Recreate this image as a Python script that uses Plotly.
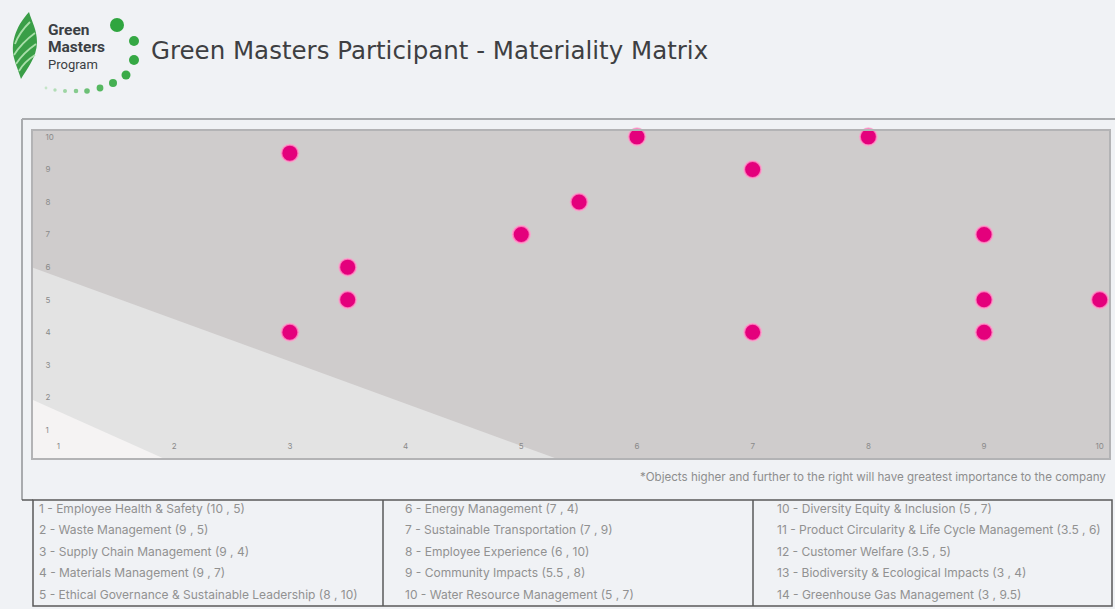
import plotly.graph_objects as go

W, H = 1115, 609

# ---------------- data ----------------
item_numbers = ["1", "2", "3", "4", "5", "6", "7", "8", "9", "10", "10", "11", "12", "13", "14"]
item_names = [
    "Employee Health & Safety",
    "Waste Management",
    "Supply Chain Management",
    "Materials Management",
    "Ethical Governance & Sustainable Leadership",
    "Energy Management",
    "Sustainable Transportation",
    "Employee Experience",
    "Community Impacts",
    "Water Resource Management",
    "Diversity Equity & Inclusion",
    "Product Circularity & Life Cycle Management",
    "Customer Welfare",
    "Biodiversity & Ecological Impacts",
    "Greenhouse Gas Management",
]
x_vals = [10, 9, 9, 9, 8, 7, 7, 6, 5.5, 5, 5, 3.5, 3.5, 3, 3]
y_vals = [5, 5, 4, 7, 10, 4, 9, 10, 8, 7, 7, 6, 5, 4, 9.5]
tick_vals = [1, 2, 3, 4, 5, 6, 7, 8, 9, 10]

title_text = "Green Masters Participant - Materiality Matrix"
note_text = "*Objects higher and further to the right will have greatest importance to the company"

# ---------------- helpers ----------------
def px(x):
    return x / W

def py(y):
    return 1 - y / H

def P(x, y):
    return f"{px(x):.5f},{py(y):.5f}"

# plot area in pixels
PL, PR, PT, PB = 33, 1109, 131, 458
X_RANGE = [0.78, 10.08]
Y_RANGE = [0.14, 10.18]

fig = go.Figure()

fig.add_trace(go.Scatter(
    x=x_vals, y=y_vals, mode="markers",
    marker=dict(size=17, color="#e4007c",
                line=dict(color="rgba(255,160,205,0.75)", width=2)),
    text=[f"{n} - {t}" for n, t in zip(item_numbers, item_names)],
    hoverinfo="text", cliponaxis=False, showlegend=False,
))

shapes = []
# shaded zones inside the matrix (data coords)
x0, x1 = X_RANGE
y0 = Y_RANGE[0]
shapes.append(dict(type="path", xref="x", yref="y", layer="below",
                   path=f"M {x0},5.98 L 5.29,{y0} L {x0},{y0} Z",
                   fillcolor="#e3e3e3", line=dict(width=0)))
shapes.append(dict(type="path", xref="x", yref="y", layer="below",
                   path=f"M {x0},1.92 L 1.9,{y0} L {x0},{y0} Z",
                   fillcolor="#f5f3f3", line=dict(width=0)))

# outer frame
shapes.append(dict(type="line", xref="paper", yref="paper",
                   x0=px(22), x1=px(1115), y0=py(119), y1=py(119),
                   line=dict(color="#a9abae", width=2)))
shapes.append(dict(type="line", xref="paper", yref="paper",
                   x0=px(22), x1=px(22), y0=py(119), y1=py(500),
                   line=dict(color="#a9abae", width=2)))

# table box
shapes.append(dict(type="rect", xref="paper", yref="paper",
                   x0=px(33), x1=px(1112), y0=py(500), y1=py(606),
                   line=dict(color="#5a5a5a", width=1.5)))
shapes.append(dict(type="line", xref="paper", yref="paper",
                   x0=px(22), x1=px(33), y0=py(500), y1=py(500),
                   line=dict(color="#5a5a5a", width=1.5)))
for xd in (383, 753):
    shapes.append(dict(type="line", xref="paper", yref="paper",
                       x0=px(xd), x1=px(xd), y0=py(500), y1=py(606),
                       line=dict(color="#5a5a5a", width=1.5)))

# ---- logo: flame leaf ----
flame = (f"M {P(29,12)} C {P(18,24)} {P(10,40)} {P(14,58)} "
         f"C {P(16,66)} {P(19,72)} {P(21,79)} "
         f"C {P(26,70)} {P(37,58)} {P(37,42)} "
         f"C {P(37,30)} {P(32,22)} {P(29,12)} Z")
shapes.append(dict(type="path", xref="paper", yref="paper", path=flame,
                   fillcolor="#3a9e47", line=dict(width=0)))
for (a, b, c, d) in [(15, 44, 30, 22), (14, 55, 35, 33), (16, 64, 36, 44), (19, 71, 35, 55)]:
    shapes.append(dict(type="path", xref="paper", yref="paper",
                       path=f"M {P(a,b)} Q {P((a+c)/2-3,(b+d)/2-1)} {P(c,d)}",
                       line=dict(color="#a9dfa9", width=1.8)))
# logo dots
dots = [(117, 25, 7, "#2fa53f"), (134, 41, 5, "#35a844"), (134, 60, 5, "#35a844"),
        (126, 75, 4.5, "#3aab48"), (113, 83, 4, "#45b052"), (100, 88, 3.4, "#55b860"),
        (87, 91, 2.8, "#6cc076"), (76, 91, 2.3, "#86cb8e"), (65, 91, 2, "#9dd5a3"),
        (55, 90, 1.7, "#b2ddb6"), (46, 88, 1.4, "#c4e5c7")]
for (cx, cy, r, col) in dots:
    shapes.append(dict(type="circle", xref="paper", yref="paper",
                       x0=px(cx - r), x1=px(cx + r), y0=py(cy + r), y1=py(cy - r),
                       fillcolor=col, line=dict(width=0)))

annotations = []
# logo text
for txt, yy, size, bold in [("Green", 30, 15.5, True), ("Masters", 47, 15.5, True),
                            ("Program", 65, 13, False)]:
    annotations.append(dict(xref="paper", yref="paper", x=px(46), y=py(yy),
                            xanchor="left", yanchor="middle", showarrow=False,
                            text=f"<b>{txt}</b>" if bold else txt,
                            font=dict(family="Roboto", size=size, color="#3b3f44")))
# title
annotations.append(dict(xref="paper", yref="paper", x=px(149), y=py(50),
                        xanchor="left", yanchor="middle", showarrow=False,
                        text=title_text,
                        font=dict(family="DejaVu Sans", size=24.5, color="#3e3f42")))
# note
annotations.append(dict(xref="paper", yref="paper", x=px(1108), y=py(477),
                        xanchor="right", yanchor="middle", showarrow=False,
                        text=note_text,
                        font=dict(family="Inter", size=11.6, color="#8e8e8e")))
# table entries
col_x = [37, 403, 775]
row_y = [508, 529, 551, 572, 594]
for i, (n, name, xv, yv) in enumerate(zip(item_numbers, item_names, x_vals, y_vals)):
    col, row = divmod(i, 5)
    annotations.append(dict(xref="paper", yref="paper", x=px(col_x[col]), y=py(row_y[row]),
                            xanchor="left", yanchor="middle", showarrow=False,
                            text=f"{n} - {name} ({xv:g} , {yv:g})",
                            font=dict(family="Inter", size=12, color="#919191")))

fig.update_layout(
    width=W, height=H,
    margin=dict(l=0, r=0, t=0, b=0),
    paper_bgcolor="#f0f2f5",
    plot_bgcolor="#cfcccc",
    shapes=shapes,
    annotations=annotations,
    xaxis=dict(domain=[px(PL), px(PR)], range=X_RANGE, tickvals=tick_vals,
               ticklabelposition="inside", ticks="", showgrid=False, zeroline=False,
               showline=True, linecolor="#b3b3b5", linewidth=2, mirror=True,
               tickfont=dict(family="Inter", size=8, color="#8a8a8a"),
               ticklabelstandoff=6, fixedrange=True),
    yaxis=dict(domain=[py(PB), py(PT)], range=Y_RANGE, tickvals=tick_vals,
               ticklabelposition="inside", ticks="", showgrid=False, zeroline=False,
               showline=True, linecolor="#b3b3b5", linewidth=2, mirror=True,
               tickfont=dict(family="Inter", size=8, color="#8a8a8a"),
               ticklabelstandoff=11, fixedrange=True),
    hovermode="closest",
)

fig.write_html("out.html", config={"displayModeBar": False},
               post_script="document.body.style.margin='0';document.body.style.overflow='hidden';")
